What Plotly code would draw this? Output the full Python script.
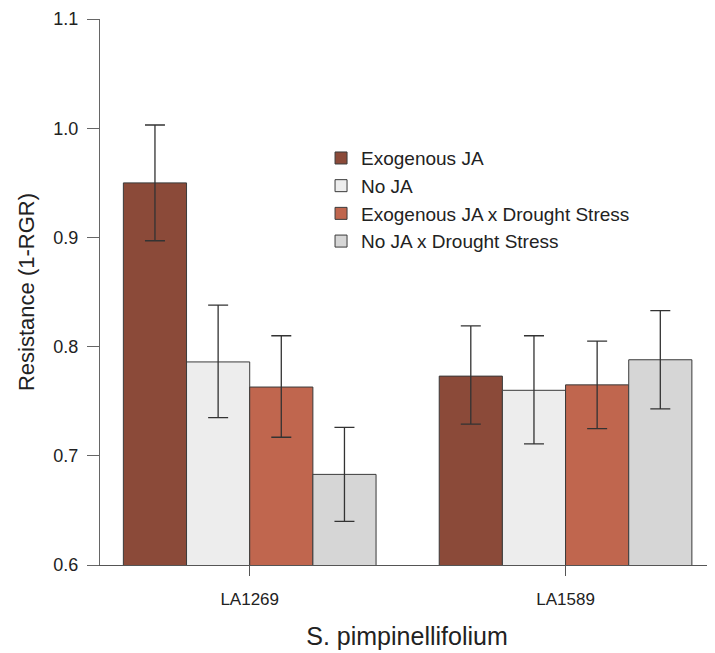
import plotly.graph_objects as go

categories = ["LA1269", "LA1589"]
series_names = ["Exogenous JA", "No JA", "Exogenous JA x Drought Stress", "No JA x Drought Stress"]
means = [
    [0.950, 0.773],
    [0.786, 0.760],
    [0.763, 0.765],
    [0.683, 0.788],
]
err_upper = [
    [1.003, 0.819],
    [0.838, 0.810],
    [0.810, 0.805],
    [0.726, 0.833],
]
err_lower = [
    [0.897, 0.729],
    [0.735, 0.711],
    [0.717, 0.725],
    [0.640, 0.743],
]
y_ticks = [0.6, 0.7, 0.8, 0.9, 1.0, 1.1]
colors = ["#8B4A39", "#EDEDED", "#C0664E", "#D6D6D6"]

fig = go.Figure()
for name, m, up, lo, c in zip(series_names, means, err_upper, err_lower, colors):
    fig.add_trace(go.Bar(
        x=categories, y=m, name=name,
        marker=dict(color=c, line=dict(color="#3a3a3a", width=1)),
        error_y=dict(type="data", symmetric=False,
                     array=[u - v for u, v in zip(up, m)],
                     arrayminus=[v - l for v, l in zip(m, lo)],
                     color="#333333", thickness=1.3, width=10),
    ))

fig.update_layout(
    width=707, height=645,
    margin=dict(l=92, r=1, t=9, b=88),
    plot_bgcolor="white", paper_bgcolor="white",
    barmode="group", bargap=0.2, bargroupgap=0,
    font=dict(family="Liberation Sans, Arial, sans-serif", color="#222222"),
    legend=dict(x=0.36, y=0.78, xanchor="left", yanchor="top",
                font=dict(size=19, color="#222222"), bgcolor="rgba(0,0,0,0)",
                itemwidth=30, tracegroupgap=0),
    showlegend=True,
    xaxis=dict(
        range=[-0.474, 1.47], showline=True, linecolor="#555555", linewidth=1.2,
        ticks="outside", ticklen=10, tickcolor="#555555", tickwidth=1,
        tickfont=dict(size=17, color="#222222"), ticklabelstandoff=8,
        title=dict(text="S. pimpinellifolium", font=dict(size=25, color="#222222"), standoff=19),
        showgrid=False, zeroline=False,
    ),
    yaxis=dict(
        range=[0.6, 1.1001], tickvals=y_ticks, tickformat=".1f",
        ticklabeloverflow="allow",
        showline=True, linecolor="#666666", linewidth=1.2,
        ticks="outside", ticklen=12, tickcolor="#666666", tickwidth=1,
        tickfont=dict(size=18, color="#222222"), ticklabelstandoff=5,
        title=dict(text="Resistance (1-RGR)", font=dict(size=22, color="#222222"), standoff=12),
        showgrid=False, zeroline=False,
    ),
)

fig.write_html("out.html")
